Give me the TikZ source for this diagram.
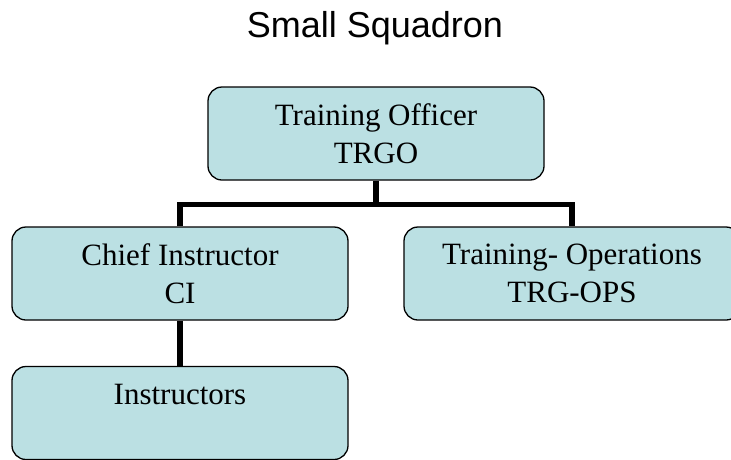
\documentclass[tikz,border=0pt]{standalone}
\usepackage{fontspec}
\setmainfont{Liberation Serif}
\newfontfamily\headfont{Liberation Sans}
\usepackage{tikz}
\definecolor{boxblue}{RGB}{187,224,227}

\begin{document}
\begin{tikzpicture}[x=1pt, y=-1pt,
  post/.style={draw=black, line width=1.3pt, fill=boxblue, rounded corners=14pt,
    minimum width=336pt, minimum height=93pt, inner sep=0pt, align=center,
    font=\fontsize{31}{38}\selectfont},
  link/.style={line width=5.5pt}]
  \clip (0,0) rectangle (731,459);
  % Title
  \node[anchor=base, font=\headfont\fontsize{36}{42}\selectfont] (title) at (375,37) {Small Squadron};
  % Boxes
  \node[post] (trgo) at (376,133.5) {Training Officer\\TRGO};
  \node[post] (ci) at (180,273.5) {Chief Instructor\\CI};
  \node[post] (ops) at (572,273.5) {Training- Operations\\TRG-OPS};
  \node[post] (instr) at (180,413) {Instructors\\\mbox{}};
  % Connectors
  \coordinate (bar) at (376,204.5);
  \draw[link] (trgo.south) -- (bar);
  \draw[link] (ci.north) |- (bar) -| (ops.north);
  \draw[link] (ci.south) -- (instr.north);
\end{tikzpicture}
\end{document}
